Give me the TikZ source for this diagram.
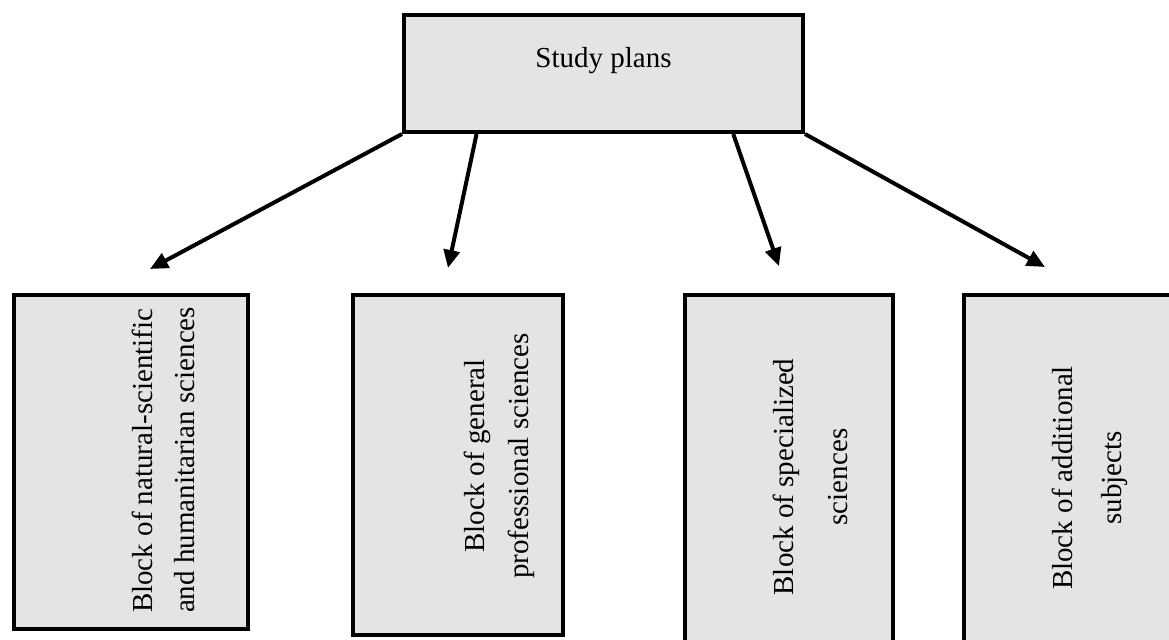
\documentclass[tikz,border=0pt]{standalone}
\usepackage{fontspec}
\setmainfont{Liberation Serif}
\usetikzlibrary{arrows.meta,calc}

\definecolor{boxgray}{RGB}{228,228,228}
\tikzset{
	blockbox/.style={draw, line width=2pt, fill=boxgray, inner sep=0pt},
	blocktext/.style={rotate=90, font=\fontsize{14.5}{24}\selectfont, align=center},
	link/.style={line width=2pt, -{Triangle[length=9pt,width=8pt]}}
}

\begin{document}
\begin{tikzpicture}[x=0.5pt,y=-0.5pt]
				\clip (0,0) rectangle (1169,640);
				\node [blockbox, minimum width=199.5pt, minimum height=58.5pt,
					label={[font=\fontsize{14.5}{17}\selectfont, yshift=6.25pt]center:Study plans}] (plans) at (603.5,73.5) {};

				\node [blockbox, minimum width=117pt, minimum height=167pt] (natural) at (131,462) {};
				\node [blockbox, minimum width=105pt, minimum height=170pt] (general) at (458,465) {};
				\node [blockbox, minimum width=104pt, minimum height=202.5pt] (special) at (789,497.5) {};
				\node [blockbox, minimum width=118pt, minimum height=202.5pt] (extra) at (1082,497.5) {};

				\node [blocktext, align=left, font=\fontsize{14.5}{21}\selectfont] (tnatural) at (163,460) {Block of natural-scientific\\and humanitarian sciences};
				\node [blocktext, font=\fontsize{14.5}{22}\selectfont] (tgeneral) at (499,456) {Block of general\\professional sciences};
				\node [blocktext, font=\fontsize{14.5}{27}\selectfont] (tspecial) at (810,477) {Block of specialized\\sciences};
				\node [blocktext, font=\fontsize{14.5}{24.5}\selectfont] (textra) at (1090,478) {Block of additional\\subjects};

				\coordinate (e1) at (150,269);
				\coordinate (e2) at (448,268);
				\coordinate (e3) at (779,266);
				\coordinate (e4) at (1045,267);
				\draw [link] (plans.south west) -- (e1);
				\draw [link] ($(plans.south west)!0.185!(plans.south east)$) -- (e2);
				\draw [link] ($(plans.south west)!0.822!(plans.south east)$) -- (e3);
				\draw [link] (plans.south east) -- (e4);
			\end{tikzpicture}
\end{document}
